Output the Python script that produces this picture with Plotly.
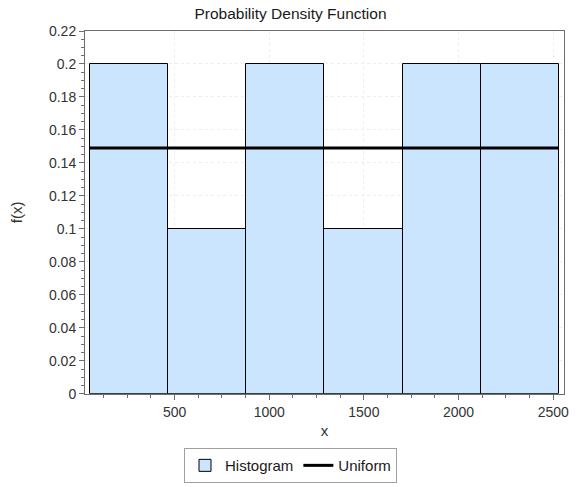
import plotly.graph_objects as go

# Histogram bins (edges) and their heights
bin_edges = [52, 465, 878, 1291, 1704, 2117, 2530]
bin_heights = [0.2, 0.1, 0.2, 0.1, 0.2, 0.2]

# Uniform density level drawn across the data range
uniform_level = 0.149

x_ticks = [500, 1000, 1500, 2000, 2500]
y_ticks = [0, 0.02, 0.04, 0.06, 0.08, 0.1, 0.12, 0.14, 0.16, 0.18, 0.2, 0.22]

centers = [(a + b) / 2 for a, b in zip(bin_edges[:-1], bin_edges[1:])]
widths = [b - a for a, b in zip(bin_edges[:-1], bin_edges[1:])]

font_family = "Liberation Sans, Arial, sans-serif"

fig = go.Figure()
fig.add_trace(go.Bar(
    x=centers, y=bin_heights, width=widths, name="Histogram",
    marker=dict(color="#cce5ff", line=dict(color="#000000", width=1)),
))
fig.add_trace(go.Scatter(
    x=[bin_edges[0], bin_edges[-1]], y=[uniform_level, uniform_level],
    mode="lines", name="Uniform", line=dict(color="#000000", width=3),
))

axis_common = dict(
    showline=True, linecolor="#6e6e6e", linewidth=1, mirror=True,
    ticks="outside", ticklen=5, tickcolor="#6e6e6e",
    showgrid=True, gridcolor="#ededed", griddash="dot", gridwidth=1,
    zeroline=False,
    tickfont=dict(family=font_family, size=14, color="#333333"),
)

fig.update_xaxes(
    range=[27, 2557], tickvals=x_ticks,
    minor=dict(dtick=125, tick0=0, ticks="outside", ticklen=3,
               tickcolor="#6e6e6e", showgrid=False),
    title=dict(text="x", font=dict(family=font_family, size=15, color="#333333"),
               standoff=6),
    **axis_common,
)
fig.update_yaxes(
    range=[0, 0.22], tickvals=y_ticks,
    minor=dict(dtick=0.005, tick0=0, ticks="outside", ticklen=3,
               tickcolor="#6e6e6e", showgrid=False),
    title=dict(text="f(x)", font=dict(family=font_family, size=15, color="#333333"),
               standoff=22),
    **axis_common,
)

fig.update_layout(
    width=581, height=487,
    margin=dict(l=85, r=13, t=31, b=91),
    paper_bgcolor="#ffffff", plot_bgcolor="#ffffff",
    bargap=0,
    title=dict(text="Probability Density Function", x=0.5, xref="container",
               y=0.972, yref="container", yanchor="middle",
               font=dict(family=font_family, size=15.5, color="#1a1a1a")),
    legend=dict(
        orientation="h", x=0.5, xanchor="center", xref="container",
        y=0.008, yanchor="bottom", yref="container",
        bordercolor="#a0a0a0", borderwidth=1, bgcolor="#ffffff",
        font=dict(family=font_family, size=15, color="#1a1a1a"),
        itemwidth=30, tracegroupgap=0,
    ),
    showlegend=True,
)

fig.write_html("out.html")
